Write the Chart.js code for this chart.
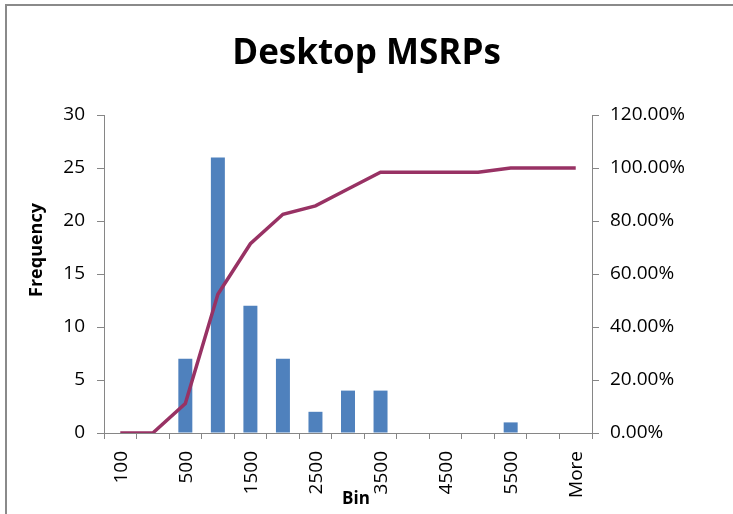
<!DOCTYPE html>
<html>
<head>
<meta charset="utf-8">
<title>Desktop MSRPs</title>
<script src="https://cdn.jsdelivr.net/npm/chart.js@4"></script>
<style>
  html, body { margin: 0; padding: 0; background: #fff; }
  #wrap { position: relative; width: 733px; height: 514px; }
</style>
</head>
<body>
<div id="wrap"><canvas id="histChart" width="733" height="514"></canvas></div>
<script>
// histogram bins and counts, cumulative % as a line on the right axis
const bins = ['100', '300', '500', '1000', '1500', '2000', '2500', '3000', '3500', '4000', '4500', '5000', '5500', '6000', 'More'];
const frequency = [0, 0, 7, 26, 12, 7, 2, 4, 4, 0, 0, 0, 1, 0, 0];
const cumulative = [0, 0, 11.11, 52.38, 71.43, 82.54, 85.71, 92.06, 98.41, 98.41, 98.41, 98.41, 100, 100, 100];

const FONT = "'Open Sans', 'DejaVu Sans', sans-serif";
const AXIS = '#868686';

// outer frame, rotated bin labels (read bottom-to-top), axis titles
const extras = {
    id: 'extras',
    beforeDraw(chart) {
        const ctx = chart.ctx;
        ctx.save();
        ctx.strokeStyle = '#8a8a8a';
        ctx.lineWidth = 2;
        ctx.strokeRect(6, 5, 760, 540);
        ctx.restore();
    },
    afterDraw(chart) {
        const ctx = chart.ctx;
        const xs = chart.scales.x;
        ctx.save();
        ctx.fillStyle = '#000';
        ctx.font = '19px ' + FONT;
        ctx.textAlign = 'right';
        ctx.textBaseline = 'middle';
        bins.forEach(function(label, i) {
            if (i % 2 !== 0) return;
            const x = xs.getPixelForValue(i);
            ctx.save();
            ctx.translate(x + 1, xs.top + 18);
            ctx.rotate(-Math.PI / 2);
            ctx.fillText(label, 0, 0);
            ctx.restore();
        });

        ctx.font = 'bold 17px ' + FONT;
        ctx.textAlign = 'center';
        ctx.fillText('Bin', 356, 499);

        ctx.font = 'bold 18px ' + FONT;
        ctx.translate(37, 250);
        ctx.rotate(-Math.PI / 2);
        ctx.fillText('Frequency', 0, 0);
        ctx.restore();
    }
};

new Chart(document.getElementById('histChart'), {
    data: {
        labels: bins,
        datasets: [{
            type: 'line',
            label: 'Cumulative %',
            data: cumulative,
            yAxisID: 'y1',
            borderColor: '#983264',
            borderWidth: 3.5,
            pointRadius: 0,
            tension: 0,
            order: 0
        }, {
            type: 'bar',
            label: 'Frequency',
            data: frequency,
            yAxisID: 'y',
            backgroundColor: '#4F81BD',
            barPercentage: 0.43,
            categoryPercentage: 1,
            order: 1
        }]
    },
    options: {
        responsive: false,
        animation: false,
        devicePixelRatio: 1,
        layout: { padding: 0 },
        plugins: {
            legend: { display: false },
            tooltip: { enabled: false },
            title: {
                display: true,
                text: 'Desktop MSRPs',
                color: '#000',
                font: { family: FONT, size: 35, weight: 'bold' },
                padding: { top: 33, bottom: 40 }
            }
        },
        scales: {
            x: {
                offset: true,
                grid: { drawOnChartArea: false, offset: true, tickLength: 6, color: AXIS },
                border: { color: AXIS },
                ticks: { display: false },
                afterFit(s) { s.height = 81; }
            },
            y: {
                position: 'left',
                min: 0,
                max: 30,
                ticks: { stepSize: 5, color: '#000', padding: 12, font: { family: FONT, size: 19 } },
                grid: { drawOnChartArea: false, tickLength: 7, color: AXIS },
                border: { color: AXIS },
                afterFit(s) { s.width = 104; }
            },
            y1: {
                position: 'right',
                min: 0,
                max: 120,
                ticks: {
                    stepSize: 20,
                    color: '#000',
                    padding: 11,
                    font: { family: FONT, size: 19 },
                    callback: function(v) { return v.toFixed(2) + '%'; }
                },
                grid: { drawOnChartArea: false, tickLength: 7, color: AXIS },
                border: { color: AXIS },
                afterFit(s) { s.width = 141; }
            }
        }
    },
    plugins: [extras]
});
</script>
</body>
</html>
